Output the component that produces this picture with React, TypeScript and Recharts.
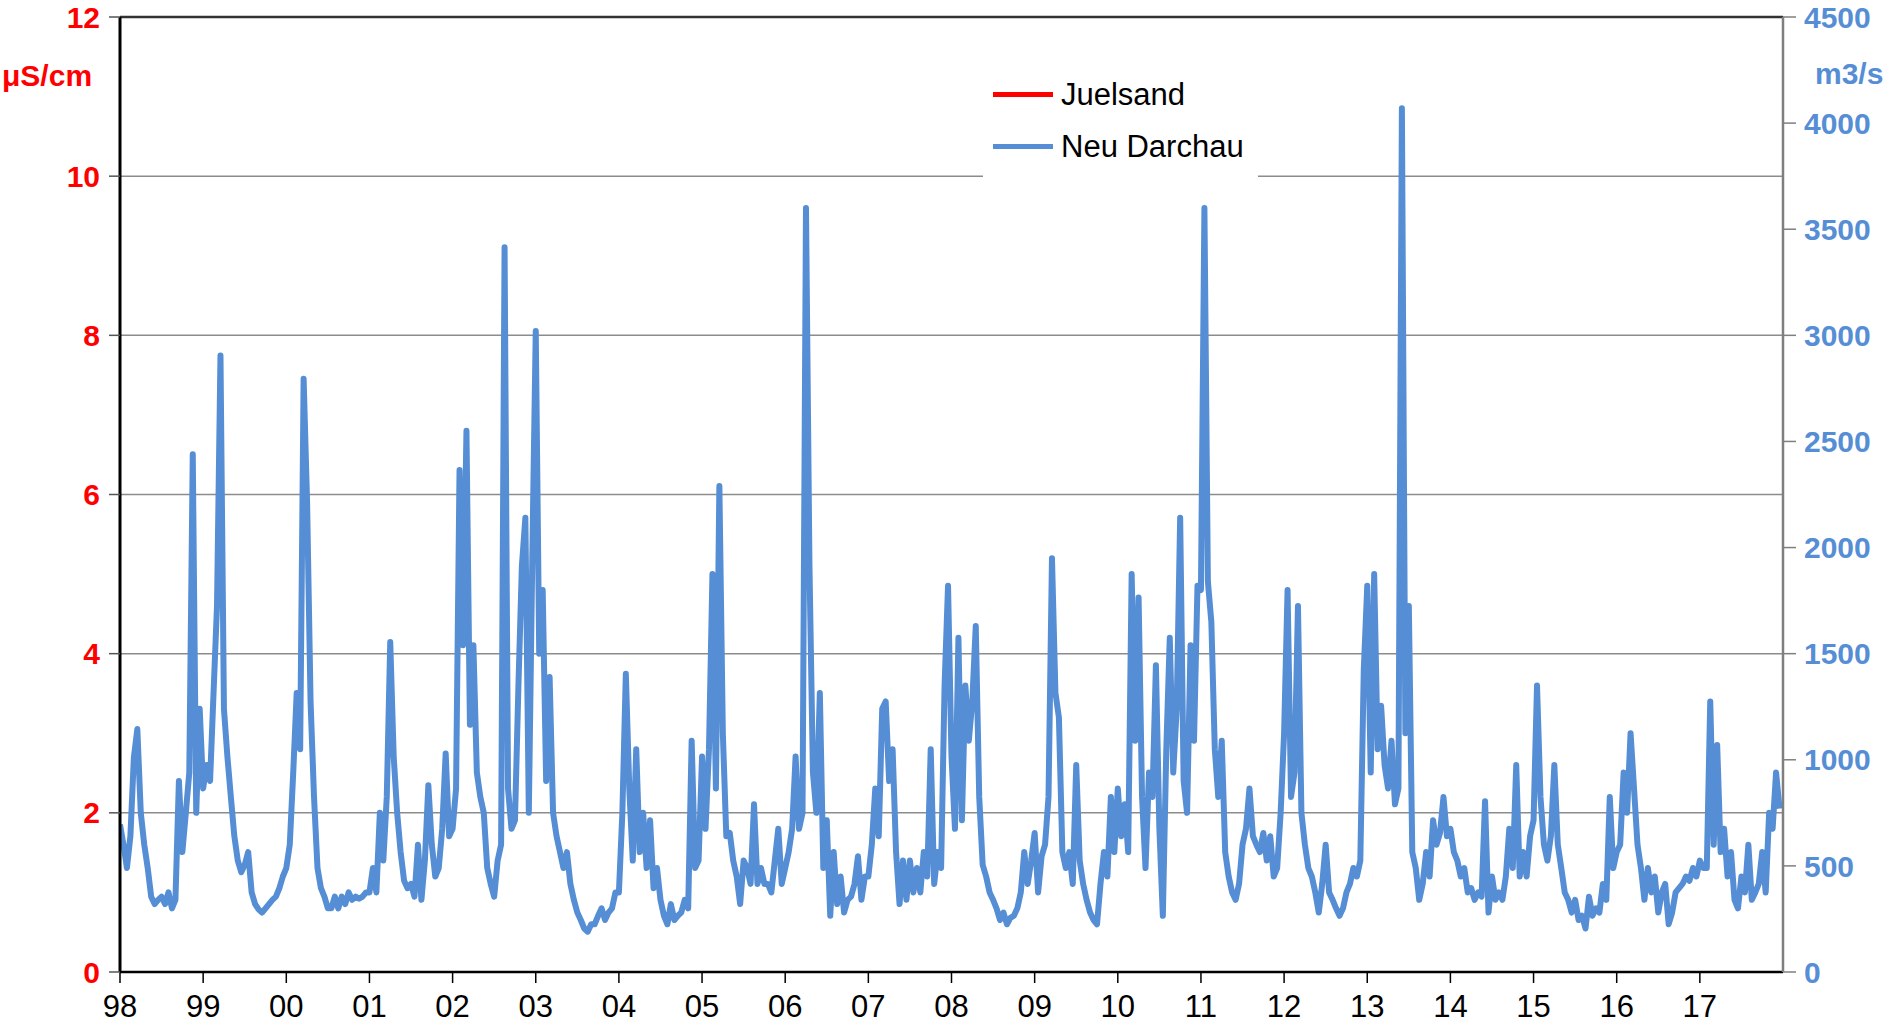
import React from "react";
import {
  ComposedChart, Line, XAxis, YAxis, CartesianGrid, Legend, ReferenceLine,
} from "recharts";

// Neu Darchau discharge in m3/s, two readings per month
const q1998 = [695, 600, 490, 640, 1010, 1145, 750, 600, 490, 355, 320, 340, 355, 320, 375, 300, 340, 900, 565, 750, 940, 2440, 750, 1240];
const q1999 = [865, 975, 900, 1315, 1725, 2905, 1240, 1015, 825, 640, 525, 470, 505, 565, 375, 320, 295, 280, 300, 320, 340, 355, 395, 450];
const q2000 = [490, 600, 940, 1315, 1050, 2795, 2215, 1275, 825, 490, 395, 355, 300, 300, 355, 300, 355, 320, 375, 340, 355, 345, 355, 375];
const q2001 = [375, 490, 375, 750, 525, 825, 1555, 1015, 750, 565, 430, 395, 415, 355, 600, 340, 525, 880, 600, 450, 490, 675, 1030, 640];
const q2002 = [675, 865, 2365, 1540, 2550, 1165, 1540, 940, 825, 750, 490, 415, 355, 525, 600, 3415, 865, 675, 715, 1350, 1915, 2140, 750, 1950];
const q2003 = [3020, 1500, 1800, 900, 1390, 750, 640, 565, 490, 565, 415, 340, 280, 245, 205, 190, 225, 225, 265, 300, 245, 280, 300, 375];
const q2004 = [375, 750, 1405, 865, 525, 1050, 565, 750, 490, 715, 395, 490, 340, 265, 225, 320, 245, 265, 280, 340, 300, 1090, 490, 525];
const q2005 = [1015, 675, 1050, 1875, 865, 2290, 1125, 640, 655, 525, 450, 320, 525, 490, 415, 790, 415, 490, 415, 415, 375, 525, 675, 415];
const q2006 = [490, 565, 675, 1015, 675, 750, 3600, 1915, 940, 750, 1315, 490, 715, 265, 565, 320, 450, 280, 340, 355, 415, 545, 340, 450];
const q2007 = [450, 600, 865, 640, 1240, 1275, 900, 1050, 565, 320, 525, 340, 525, 375, 490, 375, 565, 450, 1050, 415, 565, 490, 1350, 1820];
const q2008 = [1015, 675, 1575, 715, 1350, 1090, 1275, 1630, 825, 505, 450, 375, 340, 300, 245, 280, 225, 255, 265, 300, 375, 565, 415, 525];
const q2009 = [655, 375, 545, 600, 825, 1950, 1315, 1200, 565, 490, 565, 415, 975, 525, 415, 340, 280, 245, 225, 415, 565, 450, 825, 565];
const q2010 = [865, 640, 790, 565, 1875, 1090, 1765, 825, 490, 940, 825, 1445, 675, 265, 1050, 1575, 940, 1240, 2140, 900, 750, 1540, 1090, 1820];
const q2011 = [1800, 3600, 1840, 1650, 1050, 825, 1090, 565, 450, 375, 340, 415, 600, 675, 865, 640, 600, 565, 655, 525, 640, 450, 490, 750];
const q2012 = [1125, 1800, 825, 940, 1725, 750, 600, 490, 450, 375, 280, 415, 600, 375, 340, 300, 265, 300, 375, 415, 490, 450, 525, 1425];
const q2013 = [1820, 940, 1875, 1050, 1255, 975, 865, 1090, 790, 865, 4070, 1125, 1725, 565, 490, 340, 415, 565, 450, 715, 600, 655, 825, 640];
const q2014 = [675, 565, 525, 450, 490, 375, 395, 340, 375, 355, 805, 280, 450, 340, 375, 340, 450, 675, 490, 975, 450, 565, 450, 640];
const q2015 = [715, 1350, 825, 600, 525, 640, 975, 600, 490, 375, 340, 280, 340, 245, 265, 205, 355, 265, 300, 280, 415, 340, 825, 490];
const q2016 = [565, 600, 940, 750, 1125, 865, 600, 490, 340, 490, 375, 450, 280, 375, 415, 225, 280, 375, 395, 415, 450, 430, 490, 450];
const q2017 = [525, 490, 490, 1275, 600, 1070, 565, 675, 450, 565, 340, 300, 450, 375, 600, 340, 375, 415, 565, 375, 750, 675, 940, 770];

// Juelsand has no values in this chart, only its legend entry
const juelsand: number[] = [];

const firstYear = 1998;
const yearTicks = [1998, 1999, 2000, 2001, 2002, 2003, 2004, 2005, 2006, 2007, 2008, 2009, 2010, 2011, 2012, 2013, 2014, 2015, 2016, 2017];
const leftTicks = [0, 2, 4, 6, 8, 10, 12];
const rightTicks = [0, 500, 1000, 1500, 2000, 2500, 3000, 3500, 4000, 4500];

const flowByYear = [q1998, q1999, q2000, q2001, q2002, q2003, q2004, q2005, q2006, q2007,
  q2008, q2009, q2010, q2011, q2012, q2013, q2014, q2015, q2016, q2017];

const data = flowByYear.flatMap((vals, k) =>
  vals.map((q, i) => ({ t: firstYear + k + i / vals.length, neuDarchau: q, juelsand: juelsand[k * 24 + i] })),
);

const FONT = "'Liberation Sans', Arial, sans-serif";
const RED = "#FF0000";
const BLUE = "#558ED5";

function yearLabel(v: number) {
  return String(Math.round(v) % 100).padStart(2, "0");
}

function LegendBox() {
  const row = (color: string, text: string) => (
    <div style={{ display: "flex", alignItems: "center", height: 52 }}>
      <div style={{ width: 60, height: 5, background: color, marginLeft: 10, marginRight: 8 }} />
      <span style={{ fontSize: 31, color: "#000", fontFamily: FONT, lineHeight: "31px" }}>{text}</span>
    </div>
  );
  return (
    <div style={{ background: "#fff", width: 275, paddingTop: 10, paddingBottom: 10 }}>
      {row(RED, "Juelsand")}
      {row(BLUE, "Neu Darchau")}
    </div>
  );
}

export default function App() {
  return (
    <div style={{ position: "absolute", left: 0, top: 0, width: 1893, height: 1031, background: "#fff", fontFamily: FONT }}>
      <ComposedChart width={1893} height={1031} data={data} margin={{ top: 17, right: 0, left: 0, bottom: 0 }}>
        <CartesianGrid yAxisId="left" vertical={false} stroke="#8c8c8c" strokeWidth={1.5} />
        <XAxis
          dataKey="t"
          type="number"
          domain={[1998, 2018]}
          ticks={yearTicks}
          tickFormatter={yearLabel}
          height={59}
          tickSize={11}
          tickMargin={12}
          axisLine={{ stroke: "#000", strokeWidth: 2.5 }}
          tickLine={{ stroke: "#000", strokeWidth: 1.5 }}
          tick={{ fill: "#000", fontSize: 31, fontFamily: FONT }}
          allowDataOverflow
        />
        <YAxis
          yAxisId="left"
          orientation="left"
          type="number"
          domain={[0, 12]}
          ticks={leftTicks}
          allowDataOverflow
          width={120}
          tickSize={11}
          tickMargin={9}
          axisLine={{ stroke: "#000", strokeWidth: 3 }}
          tickLine={{ stroke: "#555", strokeWidth: 1.5 }}
          tick={{ fill: RED, fontSize: 30, fontWeight: "bold", fontFamily: FONT }}
          label={() => (
            <text x={2} y={86} fill={RED} fontSize={30} fontWeight="bold" fontFamily={FONT}>μS/cm</text>
          )}
        />
        <YAxis
          yAxisId="right"
          orientation="right"
          type="number"
          domain={[0, 4500]}
          ticks={rightTicks}
          allowDataOverflow
          width={110}
          tickSize={13}
          tickMargin={8}
          axisLine={{ stroke: "#7f7f7f", strokeWidth: 2.5 }}
          tickLine={{ stroke: "#7f7f7f", strokeWidth: 1.5 }}
          tick={{ fill: BLUE, fontSize: 30, fontWeight: "bold", fontFamily: FONT }}
          label={() => (
            <text x={1815} y={84} fill={BLUE} fontSize={30} fontWeight="bold" fontFamily={FONT}>m3/s</text>
          )}
        />
        <ReferenceLine yAxisId="left" y={12} stroke="#333" strokeWidth={2.5} />
        <Legend
          layout="vertical"
          align="center"
          verticalAlign="middle"
          content={() => <LegendBox />}
          wrapperStyle={{ left: 983, top: 58, width: 275 }}
        />
        <Line
          yAxisId="left"
          type="linear"
          dataKey="juelsand"
          name="Juelsand"
          stroke={RED}
          strokeWidth={5}
          dot={false}
          isAnimationActive={false}
        />
        <Line
          yAxisId="right"
          type="linear"
          dataKey="neuDarchau"
          name="Neu Darchau"
          stroke={BLUE}
          strokeWidth={6}
          strokeLinejoin="round"
          dot={false}
          isAnimationActive={false}
        />
      </ComposedChart>
    </div>
  );
}
